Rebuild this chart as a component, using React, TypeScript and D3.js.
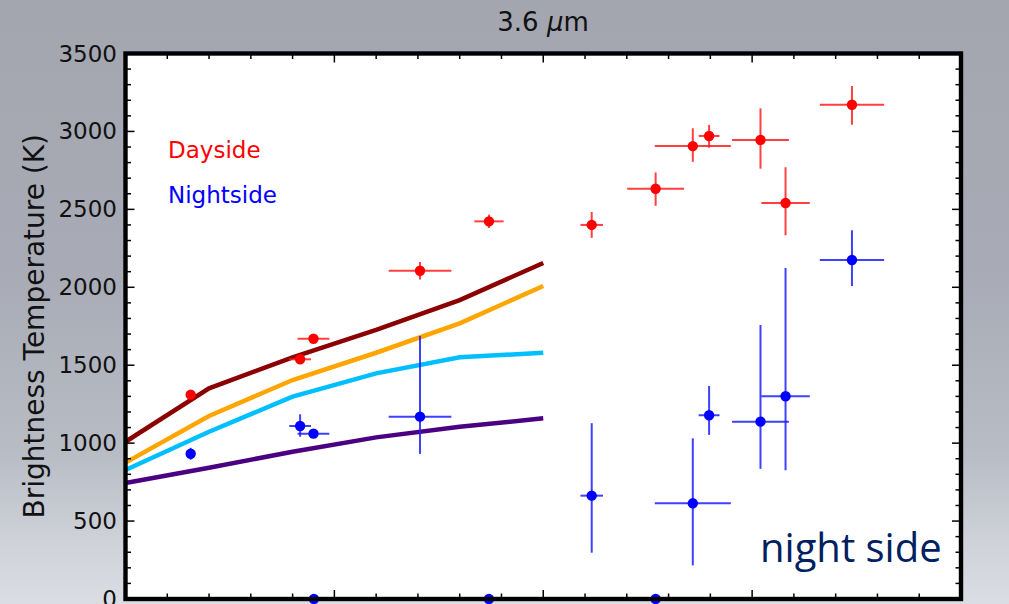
import React from "react";
import * as d3 from "d3";

// ---- data ----
const yTicks = [0, 500, 1000, 1500, 2000, 2500, 3000, 3500];
const xMajor = [1000, 1500, 2000, 2500, 3000];

const dayX = [1156, 1418, 1450, 1705, 1870, 2116, 2269, 2358, 2397, 2520, 2580, 2739];
const dayXErr = [0, 26, 38, 75, 35, 27, 68, 91, 25, 68, 58, 77];
const dayY = [1311, 1538, 1670, 2106, 2423, 2400, 2632, 2906, 2971, 2945, 2541, 3171];
const dayYErrLo = [0, 0, 0, 56, 43, 83, 109, 101, 75, 184, 207, 128];
const dayYErrHi = [0, 0, 0, 56, 43, 83, 105, 114, 71, 203, 229, 120];

const nightX = [1156, 1418, 1450, 1705, 1451, 1870, 2116, 2269, 2358, 2397, 2520, 2580, 2739];
const nightXErr = [0, 26, 38, 75, 25, 34, 27, 67, 91, 25, 68, 58, 77];
const nightY = [932, 1110, 1061, 1170, 0, 0, 663, 0, 614, 1179, 1138, 1301, 2175];
const nightYErrLo = [38, 69, 0, 239, 0, 0, 366, 0, 398, 126, 303, 475, 167];
const nightYErrHi = [38, 75, 0, 518, 0, 0, 465, 0, 417, 188, 620, 823, 191];

const modelX = [1000, 1200, 1400, 1600, 1800, 2000];
const modelMaroon = [1009, 1352, 1551, 1726, 1918, 2156];
const modelOrange = [875, 1174, 1405, 1580, 1769, 2008];
const modelCyan = [828, 1073, 1298, 1448, 1551, 1580];
const modelPurple = [744, 842, 945, 1037, 1105, 1159];

const W = 1009;
const H = 604;
const L = 125.5, R = 961, T = 53.5, B = 599;

export default function App() {
  const x = d3.scaleLinear().domain([1000, 3000]).range([L, R]);
  const y = d3.scaleLinear().domain([0, 3500]).range([B, T]);
  const line = d3
    .line<number>()
    .x((_, i) => x(modelX[i]))
    .y((d) => y(d));

  const models = [
    { vals: modelPurple, color: "#4b0082" },
    { vals: modelCyan, color: "#00bfff" },
    { vals: modelOrange, color: "#ffa500" },
    { vals: modelMaroon, color: "#8b0000" },
  ];

  const xMinor = d3.range(1000, 3001, 100);
  const yMinor = d3.range(0, 3501, 100);

  const series = (
    xs: number[],
    xe: number[],
    ys: number[],
    lo: number[],
    hi: number[],
    dot: string,
    bar: string,
    key: string
  ) =>
    xs.map((xv, i) => (
      <g key={key + i}>
        {xe[i] > 0 && (
          <line
            x1={x(xv - xe[i])}
            x2={x(xv + xe[i])}
            y1={y(ys[i])}
            y2={y(ys[i])}
            stroke={bar}
            strokeWidth={2}
          />
        )}
        {(lo[i] > 0 || hi[i] > 0) && (
          <line
            x1={x(xv)}
            x2={x(xv)}
            y1={y(ys[i] - lo[i])}
            y2={y(ys[i] + hi[i])}
            stroke={bar}
            strokeWidth={2}
          />
        )}
        <circle cx={x(xv)} cy={y(ys[i])} r={5.2} fill={dot} />
      </g>
    ));

  return (
    <svg
      width={W}
      height={H}
      style={{ position: "absolute", left: 0, top: 0, display: "block" }}
      fontFamily="DejaVu Sans, sans-serif"
    >
      <defs>
        <linearGradient id="bg" x1="0" y1="0" x2="0" y2="1">
          <stop offset="0" stopColor="#a3a5af" />
          <stop offset="0.45" stopColor="#a8abb5" />
          <stop offset="0.75" stopColor="#b8bcc5" />
          <stop offset="0.9" stopColor="#cfd2d9" />
          <stop offset="1" stopColor="#dadde3" />
        </linearGradient>
      </defs>
      <rect x={0} y={0} width={W} height={H} fill="url(#bg)" />
      <rect x={L} y={T} width={R - L} height={B - T} fill="#ffffff" />

      {/* title */}
      <text x={543} y={30.5} fontSize={26} textAnchor="middle" fill="#111">
        3.6 <tspan fontStyle="italic">μ</tspan>m
      </text>

      {/* y label */}
      <text
        transform={`translate(43.5, ${(T + B) / 2}) rotate(-90)`}
        fontSize={28}
        textAnchor="middle"
        fill="#111"
      >
        Brightness Temperature (K)
      </text>

      {/* y tick labels */}
      {yTicks.map((t) => (
        <text
          key={"yl" + t}
          x={117}
          y={y(t)}
          fontSize={23}
          textAnchor="end"
          dominantBaseline="central"
          fill="#111"
        >
          {t}
        </text>
      ))}

      {/* models */}
      {models.map((m, i) => (
        <path
          key={"m" + i}
          d={line(m.vals) || ""}
          fill="none"
          stroke={m.color}
          strokeWidth={4.5}
        />
      ))}

      {/* data */}
      {series(dayX, dayXErr, dayY, dayYErrLo, dayYErrHi, "#ff0000", "rgba(255,30,30,0.85)", "d")}
      {series(nightX, nightXErr, nightY, nightYErrLo, nightYErrHi, "#0000ff", "rgba(30,30,255,0.85)", "n")}

      {/* legend texts */}
      <text x={168} y={158} fontSize={23} fill="#ff0000">
        Dayside
      </text>
      <text x={168} y={202.5} fontSize={23} fill="#0000ff">
        Nightside
      </text>

      <text x={760} y={561.5} fontSize={40} fontFamily="Open Sans, sans-serif" fill="#002060">
        night side
      </text>

      {/* ticks */}
      {xMinor.map((t) => {
        const major = xMajor.includes(t);
        const len = major ? 9 : 5.5;
        return (
          <g key={"xt" + t}>
            <line x1={x(t)} x2={x(t)} y1={T} y2={T + len} stroke="#000" strokeWidth={1.5} />
            <line x1={x(t)} x2={x(t)} y1={B} y2={B - len} stroke="#000" strokeWidth={1.5} />
          </g>
        );
      })}
      {yMinor.map((t) => {
        const major = t % 500 === 0;
        const len = major ? 9 : 5.5;
        return (
          <g key={"yt" + t}>
            <line x1={L} x2={L + len} y1={y(t)} y2={y(t)} stroke="#000" strokeWidth={1.5} />
            <line x1={R} x2={R - len} y1={y(t)} y2={y(t)} stroke="#000" strokeWidth={1.5} />
          </g>
        );
      })}

      {/* frame */}
      <rect x={L} y={T} width={R - L} height={B - T} fill="none" stroke="#000" strokeWidth={4.4} />
    </svg>
  );
}
